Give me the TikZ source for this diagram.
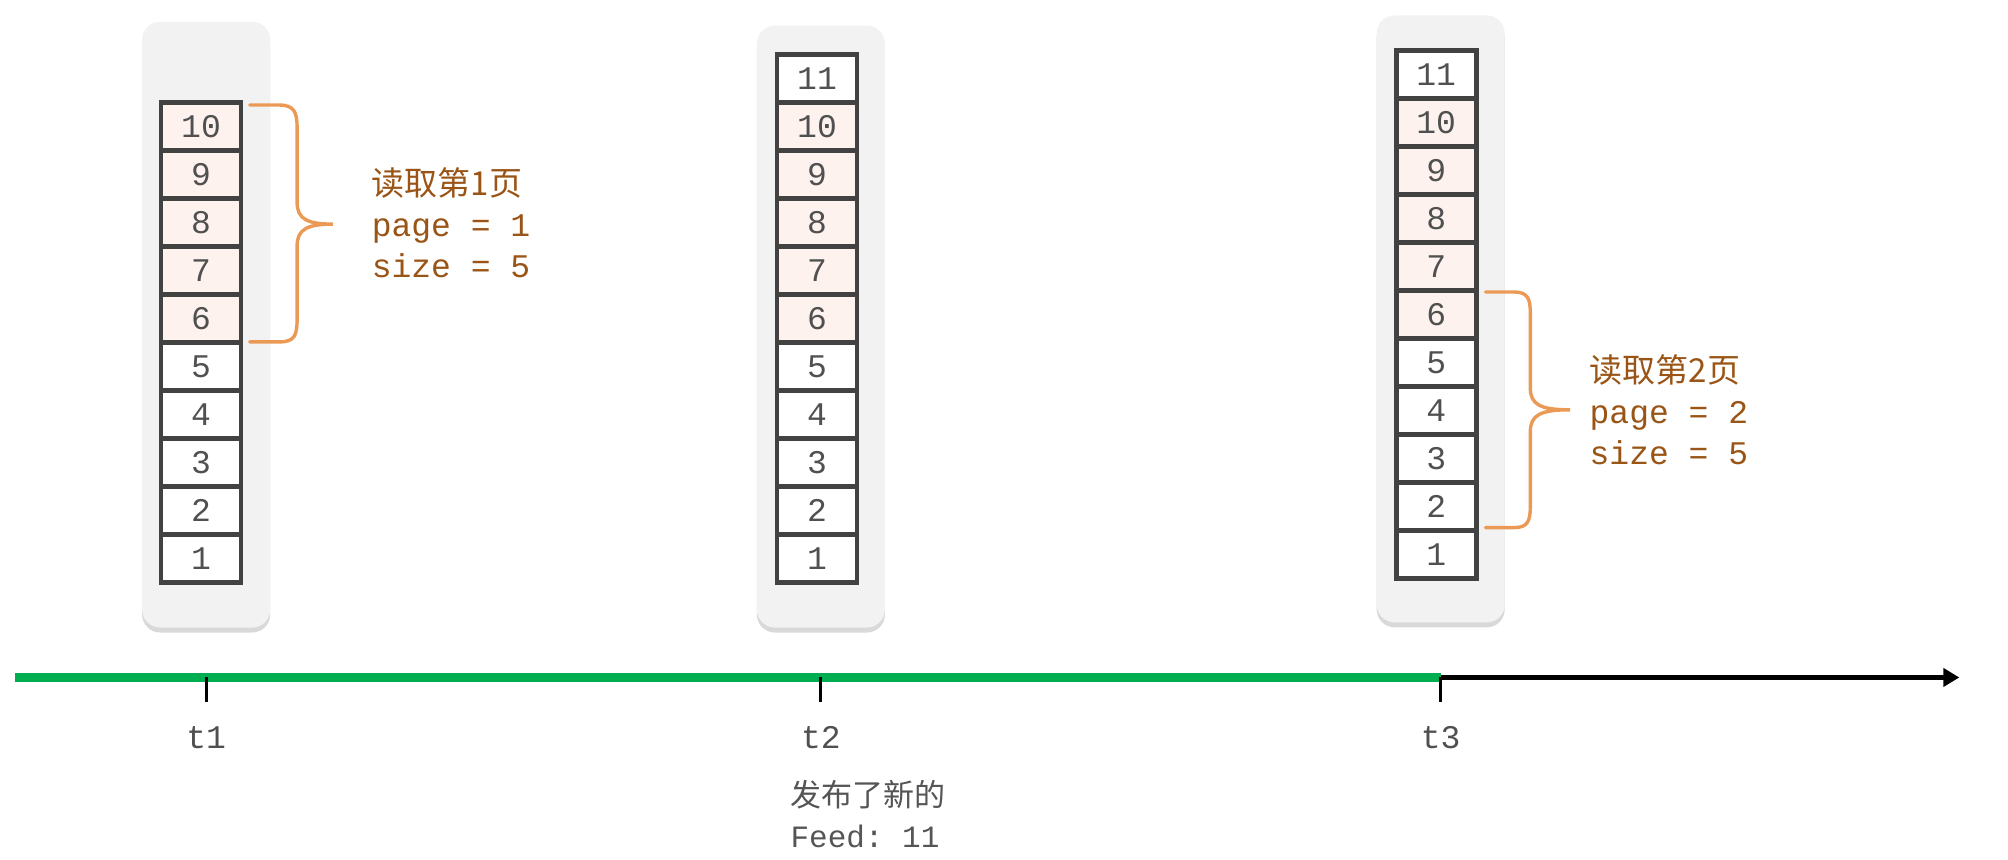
\documentclass[tikz,border=0pt]{standalone}
\usepackage{fontspec}
\setmonofont{Liberation Mono}
\newfontfamily\cjk{Noto Sans CJK SC}
\usetikzlibrary{shadows,arrows.meta}
\definecolor{panelgray}{HTML}{F2F2F2}
\definecolor{cellborder}{HTML}{424242}
\definecolor{pinkfill}{HTML}{FDF2EE}
\definecolor{numgray}{HTML}{505050}
\definecolor{braceor}{HTML}{EB9A55}
\definecolor{textor}{HTML}{9A5516}
\definecolor{tlgreen}{HTML}{00AD50}
\definecolor{labgray}{HTML}{555555}
\begin{document}
\begin{tikzpicture}[x=0.64pt,y=-0.64pt,
  panel/.style={fill=panelgray, rounded corners=9pt,
    drop shadow={shadow xshift=0pt, shadow yshift=-2.5pt, opacity=0.25, fill=black!60}},
  cell/.style={draw=cellborder, line width=2.4pt, fill=white, minimum width=40pt,
    minimum height=24pt, inner sep=0pt, text=numgray,
    font=\ttfamily\fontsize{16.5}{16.5}\selectfont},
  pcell/.style={cell, fill=pinkfill},
  bracepath/.style={draw=braceor, line width=1.7pt, line cap=round},
  note/.style={align=left, anchor=west, text=textor, inner sep=0pt,
    font=\ttfamily\fontsize{16.5}{20.5}\selectfont},
  greenline/.style={draw=tlgreen, line width=4.3pt},
  blackline/.style={draw=black, line width=2.7pt, -{Triangle[length=8pt,width=9pt]}},
  tick/.style={draw=black, line width=1.4pt},
  tlabel/.style={text=numgray, font=\ttfamily\fontsize{16.5}{16.5}\selectfont},
  event/.style={align=left, anchor=west, text=labgray, inner sep=0pt,
    font=\ttfamily\fontsize{15.5}{20.5}\selectfont}
]
\useasboundingbox (0,0) rectangle (1568,671);

% panels
\path[panel] (111,17) rectangle (211,490);
\path[panel] (591,20) rectangle (691,490);
\path[panel] (1075,12) rectangle (1175,486);

% column 1
\foreach \n in {5,...,1}
  \node[cell] (a\n) at (157,{80+37.5*(10.5-\n)}) {\n};
\foreach \n in {10,...,6}
  \node[pcell] (a\n) at (157,{80+37.5*(10.5-\n)}) {\n};

% column 2
\foreach \n in {11,5,4,3,2,1}
  \node[cell] (b\n) at (638,{42.5+37.5*(11.5-\n)}) {\n};
\foreach \n in {10,...,6}
  \node[pcell] (b\n) at (638,{42.5+37.5*(11.5-\n)}) {\n};

% column 3
\foreach \n in {11,5,4,3,2,1}
  \node[cell] (c\n) at (1121.5,{39.5+37.5*(11.5-\n)}) {\n};
\foreach \n in {10,...,6}
  \node[pcell] (c\n) at (1121.5,{39.5+37.5*(11.5-\n)}) {\n};

% brace 1
\coordinate (br1top) at (195,82);
\coordinate (br1tip) at (260,175);
\coordinate (br1bot) at (195,267);
\draw[bracepath] (br1top) -- (218,82) .. controls (230,82) and (232,88) .. (232,100)
  -- (232,158) .. controls (232,171) and (240,175) .. (br1tip)
  .. controls (240,175) and (232,179) .. (232,192)
  -- (232,249) .. controls (232,262) and (230,267) .. (218,267) -- (br1bot);
\node[note] (n1) at (290,174) {{\cjk 读取第1页}\\page = 1\\size = 5};

% brace 2
\coordinate (br2top) at (1160,228);
\coordinate (br2tip) at (1226,320);
\coordinate (br2bot) at (1160,412);
\draw[bracepath] (br2top) -- (1182,228) .. controls (1193,228) and (1195,233) .. (1195,245)
  -- (1195,303) .. controls (1195,316) and (1203,320) .. (br2tip)
  .. controls (1203,320) and (1195,324) .. (1195,337)
  -- (1195,395) .. controls (1195,407) and (1193,412) .. (1182,412) -- (br2bot);
\node[note] (n2) at (1241,320) {{\cjk 读取第2页}\\page = 2\\size = 5};

% timeline
\coordinate (tl0) at (12,529);
\coordinate (t1p) at (161,529);
\coordinate (t2p) at (641,529);
\coordinate (t3p) at (1125,529);
\coordinate (tlend) at (1530,529);
\draw[greenline] (tl0) -- (t3p);
\draw[blackline] (t3p) -- (tlend);
\draw[tick] (t1p) -- ++(0,19);
\draw[tick] (t2p) -- ++(0,19);
\draw[tick] (t3p) -- ++(0,19);
\node[tlabel] (l1) at (161,576) {t1};
\node[tlabel] (l2) at (641,576) {t2};
\node[tlabel] (l3) at (1125,576) {t3};
\node[event] (ev) at (617,636) {{\cjk 发布了新的}\\Feed: 11};
\end{tikzpicture}
\end{document}
